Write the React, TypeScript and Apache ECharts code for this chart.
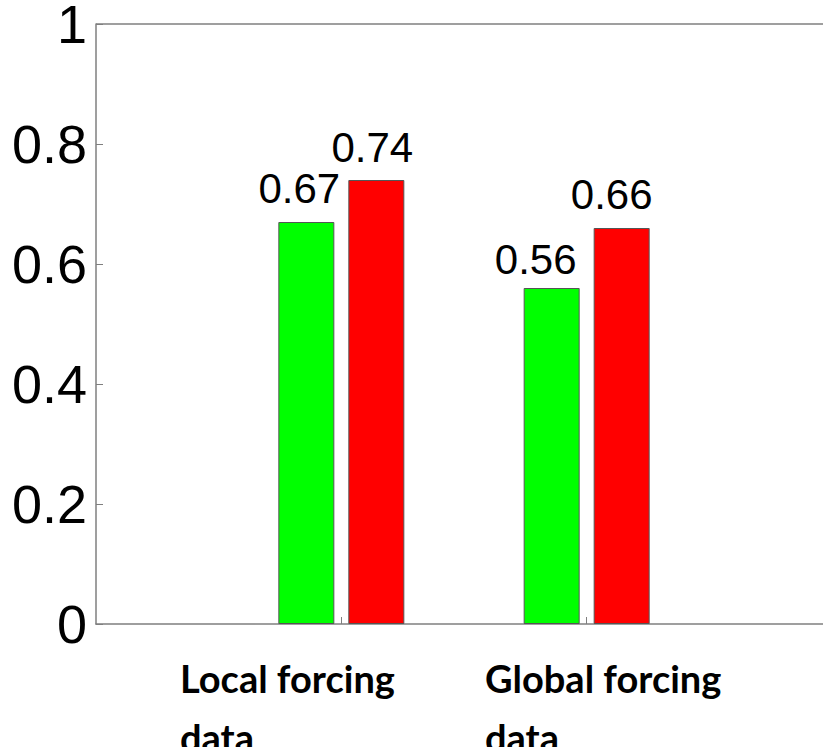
import React, { useEffect, useRef } from "react";
import * as echarts from "echarts";

// Category slots on the x axis: empty slots at both ends pad the plot like xlim [0, 3]
const slots = ["", "Local forcing data", "Global forcing data", ""];
const categoryLines = [
  ["Local forcing", "data"],
  ["Global forcing", "data"],
];
const greenValues = [null, 0.67, 0.56, null];
const redValues = [null, 0.74, 0.66, null];
const yTicks = [0, 0.2, 0.4, 0.6, 0.8, 1];

// Hand-placed nudges for the value labels, per slot: [dx, dy]
const greenLabelNudge = [[0, 0], [-7, 0], [-16, 5], [0, 0]];
const redLabelNudge = [[0, 0], [-4, 1], [-10, 0], [0, 0]];

const W = 823;
const H = 747;
// The plot box runs past the right edge of the frame, so the chart canvas is wider
// than the visible window and the overflow is clipped.
const CANVAS_W = 860;

const AXIS_GREY = "#7f7f7f";

export default function App() {
  const ref = useRef<HTMLDivElement>(null);

  useEffect(() => {
    document.body.style.margin = "0";
    if (!ref.current) return;
    const chart = echarts.init(ref.current, undefined, { renderer: "svg" });

    const valueLabel = {
      show: true,
      position: "top" as const,
      distance: 13,
      fontFamily: "Liberation Sans, Arial, sans-serif",
      fontSize: 42,
      color: "#000",
      formatter: (p: any) => Number(p.value).toFixed(2),
    };

    const barData = (values: (number | null)[], nudges: number[][]) =>
      values.map((v, i) =>
        v === null ? null : { value: v, label: { offset: nudges[i] } }
      );

    const labelLeft = [180, 485];
    const labelTop = [659, 718];
    const textFont = 'bold 38px Lato, "Open Sans", sans-serif';

    chart.setOption({
      animation: false,
      backgroundColor: "#fff",
      grid: {
        left: 96,
        top: 24,
        width: 736,
        height: 600,
        outerBoundsMode: "none",
        containLabel: false,
      },
      xAxis: {
        type: "category",
        data: slots,
        boundaryGap: false,
        axisLine: { lineStyle: { color: AXIS_GREY, width: 1.5 } },
        axisTick: {
          inside: true,
          length: 7,
          interval: (i: number) => i === 1 || i === 2,
          lineStyle: { color: AXIS_GREY, width: 1 },
        },
        axisLabel: { show: false },
        splitLine: { show: false },
      },
      yAxis: {
        type: "value",
        min: yTicks[0],
        max: yTicks[yTicks.length - 1],
        interval: 0.2,
        axisLine: { show: true, lineStyle: { color: AXIS_GREY, width: 1.5 } },
        axisTick: {
          show: true,
          inside: true,
          length: 7,
          lineStyle: { color: AXIS_GREY, width: 1 },
        },
        axisLabel: {
          margin: 9,
          fontFamily: "Liberation Sans, Arial, sans-serif",
          fontSize: 54,
          lineHeight: 40,
          color: "#000",
          verticalAlign: "middle",
          padding: [5, 0, 0, 0],
        },
        splitLine: { show: false },
      },
      series: [
        {
          type: "bar",
          data: barData(greenValues, greenLabelNudge),
          barWidth: 56,
          barGap: "25%",
          itemStyle: { color: "#00ff00", borderColor: "#555", borderWidth: 1 },
          label: valueLabel,
          // top frame line of the box, at the axis maximum
          markLine: {
            silent: true,
            symbol: "none",
            label: { show: false },
            lineStyle: { color: AXIS_GREY, width: 1.5, type: "solid" },
            data: [{ yAxis: yTicks[yTicks.length - 1] }],
          },
        },
        {
          type: "bar",
          data: barData(redValues, redLabelNudge),
          barWidth: 56,
          barGap: "25%",
          itemStyle: { color: "#ff0000", borderColor: "#555", borderWidth: 1 },
          label: valueLabel,
        },
      ],
      graphic: categoryLines.flatMap((lines, ci) =>
        lines.map((line, li) => ({
          type: "text",
          left: labelLeft[ci],
          top: labelTop[li],
          style: {
            text: line,
            font: textFont,
            fill: "#000",
          },
        }))
      ),
    });

    return () => chart.dispose();
  }, []);

  return (
    <div style={{ width: W, height: H, overflow: "hidden", position: "relative" }}>
      <div ref={ref} style={{ width: CANVAS_W, height: H }} />
    </div>
  );
}
